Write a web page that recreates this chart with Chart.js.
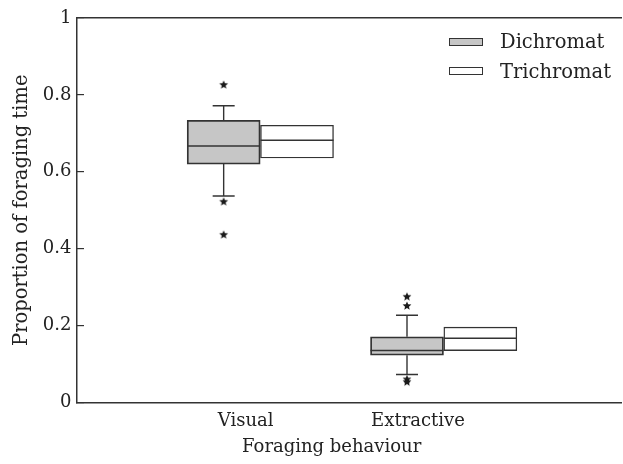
<!DOCTYPE html>
<html>
<head>
<meta charset="utf-8">
<script src="https://cdn.jsdelivr.net/npm/chart.js@4/dist/chart.umd.min.js"></script>
<style>
  html, body { margin: 0; padding: 0; background: #fff; }
  #wrap { position: relative; width: 623px; height: 464px; }
  #legend { position: absolute; left: 449px; top: 27px; font-family: "DejaVu Serif", serif; font-size: 19.5px; color: #222; }
  .item { display: flex; align-items: center; height: 29.5px; }
  .swatch { width: 32px; height: 6px; border: 1px solid #333; margin-right: 17px; }
  #xtitle { position: absolute; left: 211.7px; width: 240px; top: 435.5px; line-height: 20px; text-align: center;
            font-family: "DejaVu Serif", serif; font-size: 18px; color: #222; white-space: nowrap; }
</style>
</head>
<body>
<div id="wrap">
  <canvas id="c" width="623" height="464"></canvas>
  <div id="legend"></div>
  <div id="xtitle"></div>
</div>
<script>
// ---- data ----
const categories = ['Visual', 'Extractive'];
const seriesNames = ['Dichromat', 'Trichromat'];
const categoryPositions = [1, 2];
const xTickPositions = [0.92, 1.86];
const xTickLabels = ['Visual', 'Extractive'];
const xTitle = 'Foraging behaviour';
const yTitle = 'Proportion of foraging time';

const dichQ1 = [0.620, 0.123];
const dichMedian = [0.667, 0.135];
const dichQ3 = [0.734, 0.171];
const dichLow = [0.537, 0.073];
const dichHigh = [0.772, 0.227];
const dichOutliers = [[0.826, 0.522, 0.436], [0.275, 0.251, 0.060, 0.053]];

const triQ1 = [0.636, 0.135];
const triMedian = [0.682, 0.167];
const triQ3 = [0.721, 0.196];

const yTickStep = 0.2;

// ---- styling ----
const FONT = '"DejaVu Serif", serif';
const INK = '#333333';
const fills = ['#c6c6c6', '#ffffff'];
const seriesOffset = 0.2;   // half of group, in x units
const boxPx = 73;

// star point style
function makeStar(r) {
  const c = document.createElement('canvas');
  const s = Math.ceil(r * 2 + 2);
  c.width = s; c.height = s;
  const g = c.getContext('2d');
  g.fillStyle = '#1a1a1a';
  g.beginPath();
  for (let i = 0; i < 10; i++) {
    const rad = (i % 2 === 0) ? r : r * 0.45;
    const a = -Math.PI / 2 + i * Math.PI / 5;
    const px = s / 2 + rad * Math.cos(a), py = s / 2 + rad * Math.sin(a);
    if (i === 0) g.moveTo(px, py); else g.lineTo(px, py);
  }
  g.closePath();
  g.fill();
  return c;
}
const star = makeStar(4.6);

const dichX = categoryPositions.map(p => p - seriesOffset);
const triX = categoryPositions.map(p => p + seriesOffset);

const dichBoxes = dichX.map((x, i) => ({ x, y: [dichQ1[i], dichQ3[i]] }));
const triBoxes = triX.map((x, i) => ({ x, y: [triQ1[i], triQ3[i]] }));

const medians = [
  ...dichX.map((x, i) => ({ x, y: dichMedian[i] })),
  ...triX.map((x, i) => ({ x, y: triMedian[i] }))
];
const caps = [];
const stems = [];
dichX.forEach((x, i) => {
  caps.push({ x, y: dichHigh[i] }, { x, y: dichLow[i] });
  stems.push({ x, y: dichQ3[i] }, { x, y: dichHigh[i] }, { x, y: NaN },
             { x, y: dichQ1[i] }, { x, y: dichLow[i] }, { x, y: NaN });
});
const outliers = [];
dichX.forEach((x, i) => dichOutliers[i].forEach(v => outliers.push({ x, y: v })));

new Chart(document.getElementById('c'), {
  type: 'bar',
  data: {
    datasets: [
      { type: 'bar', label: seriesNames[0], data: dichBoxes, backgroundColor: fills[0], borderColor: INK,
        borderWidth: 1.8, borderSkipped: false, barThickness: boxPx, grouped: false, order: 5 },
      { type: 'bar', label: seriesNames[1], data: triBoxes, backgroundColor: fills[1], borderColor: INK,
        borderWidth: 1.4, borderSkipped: false, barThickness: boxPx, grouped: false, order: 6 },
      { type: 'scatter', label: 'stems', data: stems, showLine: true, spanGaps: false, borderColor: INK,
        borderWidth: 1.4, pointRadius: 0, order: 8 },
      { type: 'scatter', label: 'caps', data: caps, pointStyle: 'line', pointRadius: 11, borderColor: INK,
        pointBorderWidth: 1.5, order: 1 },
      { type: 'scatter', label: 'medians', data: medians, pointStyle: 'line', pointRadius: boxPx / 2, borderColor: INK,
        pointBorderWidth: 1.5, order: 1 },
      { type: 'scatter', label: 'outliers', data: outliers, pointStyle: star, order: 0 }
    ]
  },
  options: {
    responsive: false,
    animation: false,
    events: [],
    layout: { autoPadding: false, padding: { left: 0, right: 1.5, top: 0, bottom: 0 } },
    plugins: { legend: { display: false }, tooltip: { enabled: false } },
    scales: {
      x: {
        type: 'linear', min: 0, max: 2.97, position: 'bottom', offset: false,
        grid: { display: false, drawTicks: false, offset: false },
        border: { display: true, color: INK, width: 1.5 },
        afterBuildTicks: s => { s.ticks = xTickPositions.map(v => ({ value: v })); },
        ticks: { padding: 8, color: '#222', font: { family: FONT, size: 18 },
                 callback: (v, i) => xTickLabels[i], maxRotation: 0, autoSkip: false },
        title: { display: false },
        afterFit: s => { s.height = 61.5; s.paddingLeft = 0; s.paddingRight = 0; }
      },
      x2: {
        type: 'linear', min: 0, max: 2.97, position: 'top', offset: false,
        grid: { display: false, drawTicks: false },
        ticks: { display: false },
        border: { display: true, color: INK, width: 1.5 },
        afterFit: s => { s.height = 18; s.paddingLeft = 0; s.paddingRight = 0; }
      },
      y: {
        min: 0, max: 1,
        grid: { drawOnChartArea: false, tickLength: -7, color: INK, lineWidth: 1.2 },
        border: { display: true, color: INK, width: 1.5 },
        ticks: { stepSize: yTickStep, padding: 12.5, color: '#222', font: { family: FONT, size: 18 },
                 callback: v => String(Math.round(v * 10) / 10) },
        title: { display: true, text: yTitle, color: '#222', font: { family: FONT, size: 19.5 },
                 padding: { top: 10, bottom: 0 } },
        afterFit: s => { s.width = 77; s.paddingTop = 0; s.paddingBottom = 0; }
      }
    }
  }
});

// x-axis title and legend (real text)
document.getElementById('xtitle').textContent = xTitle;
const legend = document.getElementById('legend');
seriesNames.forEach((name, i) => {
  const row = document.createElement('div');
  row.className = 'item';
  const sw = document.createElement('span');
  sw.className = 'swatch';
  sw.style.background = fills[i];
  const tx = document.createElement('span');
  tx.textContent = name;
  row.appendChild(sw); row.appendChild(tx);
  legend.appendChild(row);
});
</script>
</body>
</html>
